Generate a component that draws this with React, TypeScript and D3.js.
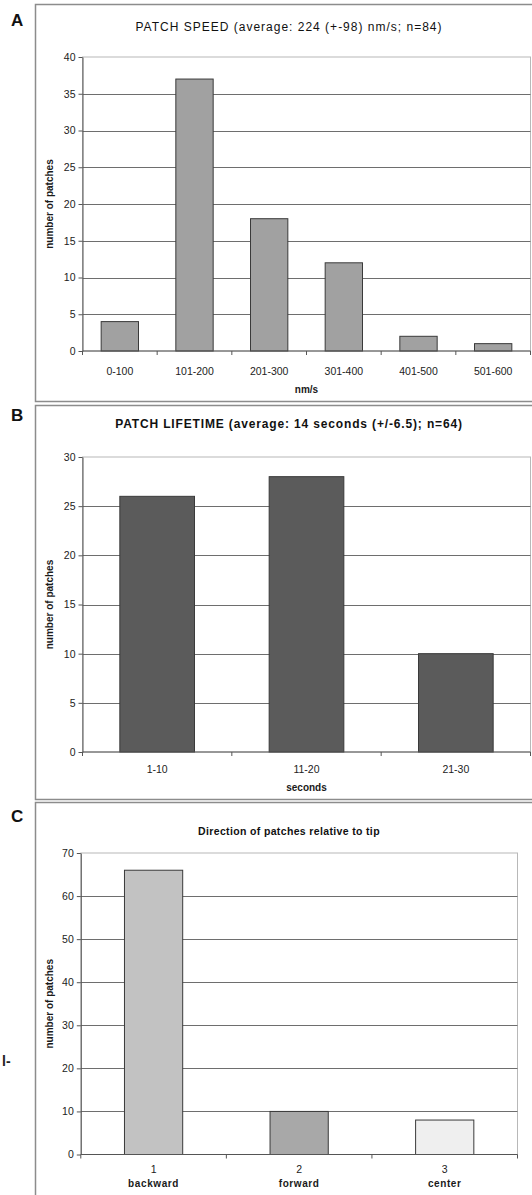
import React, { useEffect, useRef } from 'react';
import * as d3 from 'd3';

// panel A: patch speed histogram
const speedCategories = ['0-100', '101-200', '201-300', '301-400', '401-500', '501-600'];
const speedCounts = [4, 37, 18, 12, 2, 1];

// panel B: patch lifetime histogram
const lifetimeCategories = ['1-10', '11-20', '21-30'];
const lifetimeCounts = [26, 28, 10];

// panel C: direction relative to tip
const directionNumbers = ['1', '2', '3'];
const directionLabels = ['backward', 'forward', 'center'];
const directionCounts = [66, 10, 8];

const FONT = '"Liberation Sans", Arial, Helvetica, sans-serif';

interface PanelConfig {
  letter: string;
  letterY: number;
  frameTop: number;
  frameBottom: number;
  title: string;
  titleY: number;
  titleSize: number;
  titleBold: boolean;
  titleSpacing: number;
  left: number;
  right: number;
  top: number;
  bottom: number;
  categories: string[];
  subLabels?: string[];
  values: number[];
  yMax: number;
  yStep: number;
  barRatio: number;
  colors: string[];
  labelY: number;
  xTitle?: string;
  xTitleY?: number;
}

const panels: PanelConfig[] = [
  {
    letter: 'A', letterY: 26, frameTop: 4.5, frameBottom: 401.5,
    title: 'PATCH SPEED (average: 224 (+-98) nm/s; n=84)', titleY: 31, titleSize: 12, titleBold: false, titleSpacing: 1.0,
    left: 82.5, right: 530.5, top: 57, bottom: 351,
    categories: speedCategories, values: speedCounts, yMax: 40, yStep: 5,
    barRatio: 0.5, colors: ['#a1a1a1'], labelY: 375, xTitle: 'nm/s', xTitleY: 393,
  },
  {
    letter: 'B', letterY: 421, frameTop: 405.5, frameBottom: 799.5,
    title: 'PATCH LIFETIME (average: 14 seconds (+/-6.5); n=64)', titleY: 428, titleSize: 12, titleBold: true, titleSpacing: 0.85,
    left: 82.5, right: 530.5, top: 457, bottom: 752,
    categories: lifetimeCategories, values: lifetimeCounts, yMax: 30, yStep: 5,
    barRatio: 0.5, colors: ['#5b5b5b'], labelY: 773, xTitle: 'seconds', xTitleY: 791,
  },
  {
    letter: 'C', letterY: 822, frameTop: 802.5, frameBottom: 1210,
    title: 'Direction of patches relative to tip', titleY: 835, titleSize: 10.5, titleBold: true, titleSpacing: 0.35,
    left: 80.8, right: 517.5, top: 853, bottom: 1154.5,
    categories: directionNumbers, subLabels: directionLabels, values: directionCounts, yMax: 70, yStep: 10,
    barRatio: 0.4, colors: ['#c2c2c2', '#a8a8a8', '#efefef'], labelY: 1173,
  },
];

function drawPanel(svg: d3.Selection<SVGSVGElement, unknown, null, undefined>, p: PanelConfig) {
  const g = svg.append('g');

  // panel frame (right side runs off the page)
  g.append('path')
    .attr('d', `M600,${p.frameTop}H35.5V${p.frameBottom}H600`)
    .attr('fill', 'none')
    .attr('stroke', '#8c8c8c')
    .attr('stroke-width', 1.5);

  g.append('text')
    .attr('x', 11)
    .attr('y', p.letterY)
    .attr('font-family', FONT)
    .attr('font-size', '17px')
    .attr('font-weight', 'bold')
    .attr('fill', '#111')
    .text(p.letter);

  g.append('text')
    .attr('x', 289)
    .attr('y', p.titleY)
    .attr('text-anchor', 'middle')
    .attr('font-family', FONT)
    .attr('font-size', `${p.titleSize}px`)
    .attr('font-weight', p.titleBold ? 'bold' : 'normal')
    .attr('letter-spacing', p.titleSpacing)
    .attr('fill', '#111')
    .text(p.title);

  const xScale = d3.scaleBand<string>()
    .domain(p.categories)
    .range([p.left, p.right])
    .paddingInner(0)
    .paddingOuter(0);

  const yScale = d3.scaleLinear()
    .domain([0, p.yMax])
    .range([p.bottom, p.top]);

  const ticks = d3.range(0, p.yMax + p.yStep / 2, p.yStep);

  // plot area border
  g.append('rect')
    .attr('x', p.left)
    .attr('y', p.top)
    .attr('width', p.right - p.left)
    .attr('height', p.bottom - p.top)
    .attr('fill', 'none')
    .attr('stroke', '#b8b8b8')
    .attr('stroke-width', 1);

  // gridlines
  g.append('g')
    .selectAll('line')
    .data(ticks.filter((t) => t > 0 && t < p.yMax))
    .enter()
    .append('line')
    .attr('x1', p.left)
    .attr('x2', p.right)
    .attr('y1', (d) => Math.round(yScale(d)) + 0.5)
    .attr('y2', (d) => Math.round(yScale(d)) + 0.5)
    .attr('stroke', '#6e6e6e')
    .attr('stroke-width', 1);

  // bars
  const bw = xScale.bandwidth();
  const barW = bw * p.barRatio;
  g.append('g')
    .selectAll('rect')
    .data(p.values)
    .enter()
    .append('rect')
    .attr('x', (_, i) => (xScale(p.categories[i]) as number) + (bw - barW) / 2)
    .attr('y', (d) => yScale(d))
    .attr('width', barW)
    .attr('height', (d) => p.bottom - yScale(d))
    .attr('fill', (_, i) => p.colors[i % p.colors.length])
    .attr('stroke', '#3a3a3a')
    .attr('stroke-width', 1);

  // y axis
  const yAxis = g.append('g')
    .attr('transform', `translate(${p.left},0)`)
    .call(d3.axisLeft(yScale).tickValues(ticks).tickSize(4).tickSizeOuter(0).tickPadding(3));
  yAxis.select('.domain').attr('stroke', '#555');
  yAxis.selectAll('.tick line').attr('stroke', '#555');
  yAxis.selectAll('.tick text')
    .attr('font-family', FONT)
    .attr('font-size', '10.5px')
    .attr('fill', '#222');

  // x axis line with ticks at category boundaries
  g.append('line')
    .attr('x1', p.left)
    .attr('x2', p.right)
    .attr('y1', p.bottom)
    .attr('y2', p.bottom)
    .attr('stroke', '#555');
  g.append('g')
    .selectAll('line')
    .data(d3.range(p.categories.length + 1))
    .enter()
    .append('line')
    .attr('x1', (i) => p.left + i * bw)
    .attr('x2', (i) => p.left + i * bw)
    .attr('y1', p.bottom)
    .attr('y2', p.bottom + 4)
    .attr('stroke', '#555');

  // category labels
  g.append('g')
    .selectAll('text')
    .data(p.categories)
    .enter()
    .append('text')
    .attr('x', (d) => (xScale(d) as number) + bw / 2)
    .attr('y', p.labelY)
    .attr('text-anchor', 'middle')
    .attr('font-family', FONT)
    .attr('font-size', '10.5px')
    .attr('fill', '#222')
    .text((d) => d);

  if (p.subLabels) {
    g.append('g')
      .selectAll('text')
      .data(p.subLabels)
      .enter()
      .append('text')
      .attr('x', (_, i) => (xScale(p.categories[i]) as number) + bw / 2)
      .attr('y', p.labelY + 14)
      .attr('text-anchor', 'middle')
      .attr('font-family', FONT)
      .attr('font-size', '10px')
      .attr('font-weight', 'bold')
      .attr('letter-spacing', 0.6)
      .attr('fill', '#1a1a1a')
      .text((d) => d);
  }

  if (p.xTitle) {
    g.append('text')
      .attr('x', (p.left + p.right) / 2)
      .attr('y', p.xTitleY as number)
      .attr('text-anchor', 'middle')
      .attr('font-family', FONT)
      .attr('font-size', '10px')
      .attr('font-weight', 'bold')
      .attr('fill', '#1a1a1a')
      .text(p.xTitle);
  }

  // y axis title
  g.append('text')
    .attr('transform', `translate(49,${(p.top + p.bottom) / 2}) rotate(-90)`)
    .attr('text-anchor', 'middle')
    .attr('dy', '0.35em')
    .attr('font-family', FONT)
    .attr('font-size', '10px')
    .attr('font-weight', 'bold')
    .attr('fill', '#1a1a1a')
    .text('number of patches');
}

export default function App() {
  const svgRef = useRef<SVGSVGElement>(null);

  useEffect(() => {
    if (!svgRef.current) return;
    const svg = d3.select(svgRef.current);
    svg.selectAll('*').remove();

    svg.append('rect').attr('width', 532).attr('height', 1195).attr('fill', '#fff');

    panels.forEach((p) => drawPanel(svg, p));

    // cropped fragment at the left edge
    svg.append('text')
      .attr('x', 2)
      .attr('y', 1066)
      .attr('font-family', FONT)
      .attr('font-size', '14px')
      .attr('font-weight', 'bold')
      .attr('fill', '#222')
      .text('l-');
  }, []);

  return (
    <svg
      ref={svgRef}
      width={532}
      height={1195}
      style={{ position: 'absolute', left: 0, top: 0 }}
    />
  );
}
